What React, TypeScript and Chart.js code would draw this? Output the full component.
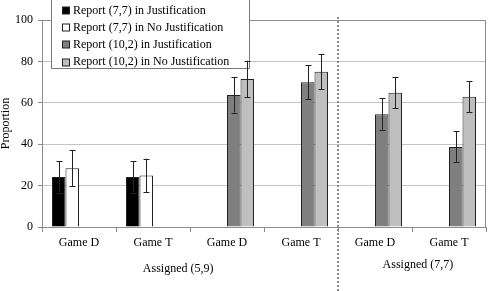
import React, { useEffect, useRef } from "react";
import { Chart, registerables } from "chart.js";

Chart.register(...registerables);

const categories = ["Game D", "Game T", "Game D", "Game T", "Game D", "Game T"];
const seriesNames = [
  "Report (7,7) in Justification",
  "Report (7,7) in No Justification",
  "Report (10,2) in Justification",
  "Report (10,2) in No Justification",
];
const report77Just = [24.2, 24.2, null, null, null, null];
const report77NoJust = [28.4, 24.9, null, null, null, null];
const report102Just = [null, null, 63.8, 69.9, 54.5, 38.7];
const report102NoJust = [null, null, 71.5, 75.0, 64.9, 62.9];
const err77Just = [7.6, 7.6, null, null, null, null];
const err77NoJust = [8.7, 8.1, null, null, null, null];
const err102Just = [null, null, 8.5, 8.2, 7.6, 7.5];
const err102NoJust = [null, null, 8.8, 8.4, 7.6, 7.5];
const yTicks = [0, 20, 40, 60, 80, 100];
const groupLabels = ["Assigned (5,9)", "Assigned (7,7)"];
const yTitle = "Proportion";

const seriesValues = [report77Just, report77NoJust, report102Just, report102NoJust];
const seriesErrors = [err77Just, err77NoJust, err102Just, err102NoJust];
const fills = ["#000000", "#ffffff", "#7f7f7f", "#bfbfbf"];
const FONT = '"Liberation Serif", "Times New Roman", serif';

const decor = {
  id: "decor",
  beforeDatasetsDraw(chart: any) {
    const ctx = chart.ctx;
    const a = chart.chartArea;
    ctx.save();
    ctx.strokeStyle = "#8c8c8c";
    ctx.lineWidth = 1;
    ctx.beginPath();
    ctx.moveTo(a.left, Math.round(a.top) + 0.5);
    ctx.lineTo(Math.round(a.right) - 0.5, Math.round(a.top) + 0.5);
    ctx.lineTo(Math.round(a.right) - 0.5, Math.round(a.bottom));
    ctx.stroke();
    const lx = Math.round(a.left + 9) + 0.5;
    const lw = 198;
    const ly = -5;
    const lb = 68.5;
    ctx.fillStyle = "#ffffff";
    ctx.fillRect(lx, ly, lw, lb - ly);
    ctx.strokeStyle = "#7a7a7a";
    ctx.strokeRect(lx, ly, lw, lb - ly);
    ctx.font = `12px ${FONT}`;
    ctx.textBaseline = "middle";
    ctx.textAlign = "left";
    chart.data.datasets.forEach((ds: any, i: number) => {
      const cy = 10.5 + i * 17.2;
      ctx.fillStyle = ds.backgroundColor;
      ctx.fillRect(lx + 11, Math.round(cy - 3.5), 7, 7);
      ctx.strokeStyle = "#222";
      ctx.strokeRect(lx + 11, Math.round(cy - 3.5), 7, 7);
      ctx.fillStyle = "#000";
      ctx.fillText(ds.label, lx + 21.5, cy);
    });
    ctx.restore();
  },
  afterDatasetsDraw(chart: any) {
    const ctx = chart.ctx;
    const y = chart.scales.y;
    ctx.save();
    ctx.strokeStyle = "#222";
    ctx.lineWidth = 1;
    seriesValues.forEach((vals, i) => {
      const meta = chart.getDatasetMeta(i);
      vals.forEach((v, j) => {
        const e = seriesErrors[i][j];
        if (v == null || e == null) return;
        const bar = meta.data[j];
        const x = Math.round(bar.x) + 0.5;
        const t = y.getPixelForValue(v + e);
        const b = y.getPixelForValue(v - e);
        ctx.beginPath();
        ctx.moveTo(x, t);
        ctx.lineTo(x, b);
        ctx.moveTo(x - 3, Math.round(t) + 0.5);
        ctx.lineTo(x + 3, Math.round(t) + 0.5);
        ctx.moveTo(x - 3, Math.round(b) + 0.5);
        ctx.lineTo(x + 3, Math.round(b) + 0.5);
        ctx.stroke();
      });
    });
    ctx.restore();
  },
  afterDraw(chart: any) {
    const ctx = chart.ctx;
    const a = chart.chartArea;
    const x = chart.scales.x;
    ctx.save();
    const sx = Math.round((x.getPixelForValue(3) + x.getPixelForValue(4)) / 2);
    ctx.strokeStyle = "#8a8a8a";
    ctx.lineWidth = 2;
    ctx.setLineDash([2, 2]);
    ctx.beginPath();
    ctx.moveTo(sx, a.top - 3);
    ctx.lineTo(sx, chart.height);
    ctx.stroke();
    ctx.setLineDash([]);
    ctx.fillStyle = "#000";
    ctx.font = `12px ${FONT}`;
    ctx.textAlign = "center";
    ctx.textBaseline = "middle";
    ctx.fillText(groupLabels[0], x.getPixelForValue(1.34), a.bottom + 42);
    ctx.fillText(groupLabels[1], x.getPixelForValue(4.58), a.bottom + 38);
    ctx.translate(6, (a.top + a.bottom) / 2);
    ctx.rotate(-Math.PI / 2);
    ctx.fillText(yTitle, 0, 0);
    ctx.restore();
  },
};

export default function App() {
  const ref = useRef<HTMLCanvasElement>(null);
  useEffect(() => {
    let chart: any = null;
    let cancelled = false;
    const build = () => {
      if (cancelled || !ref.current) return;
      Chart.defaults.font.family = FONT;
      Chart.defaults.font.size = 12;
      Chart.defaults.color = "#000";
      chart = new Chart(ref.current, {
        type: "bar",
        data: {
          labels: categories,
          datasets: seriesNames.map((name, i) => ({
            label: name,
            data: seriesValues[i] as any,
            backgroundColor: fills[i],
            borderColor: "#222",
            borderWidth: 1,
            categoryPercentage: 0.73,
            barPercentage: 1,
          })),
        },
        options: {
          responsive: false,
          animation: false,
          devicePixelRatio: 1,
          layout: { padding: { top: 20, right: 7, left: 0, bottom: 0 } },
          plugins: { legend: { display: false }, tooltip: { enabled: false } },
          scales: {
            x: {
              grid: {
                offset: true,
                drawOnChartArea: false,
                drawTicks: true,
                tickLength: 5,
                tickColor: "#8c8c8c",
              },
              border: { color: "#8c8c8c" },
              ticks: { padding: 4, color: "#000", font: { size: 12, family: FONT } },
              afterFit: (s: any) => {
                s.height = 64;
              },
            },
            y: {
              min: 0,
              max: 100,
              afterBuildTicks: (s: any) => {
                s.ticks = yTicks.map((v) => ({ value: v }));
              },
              grid: { color: "#c4c4c4", tickColor: "#8c8c8c", tickLength: 4 },
              border: { color: "#8c8c8c" },
              ticks: { padding: 5, color: "#000", font: { size: 12, family: FONT } },
              afterFit: (s: any) => {
                s.width = 42;
              },
            },
          },
        },
        plugins: [decor],
      });
    };
    const fonts: any = (document as any).fonts;
    if (fonts && fonts.load) {
      fonts.load('12px "Liberation Serif"').then(build, build);
    } else {
      build();
    }
    return () => {
      cancelled = true;
      if (chart) chart.destroy();
    };
  }, []);
  return (
    <div style={{ position: "fixed", left: 0, top: 0, width: 493, height: 291, background: "#fff" }}>
      <canvas ref={ref} width={493} height={291} style={{ display: "block" }} />
    </div>
  );
}
